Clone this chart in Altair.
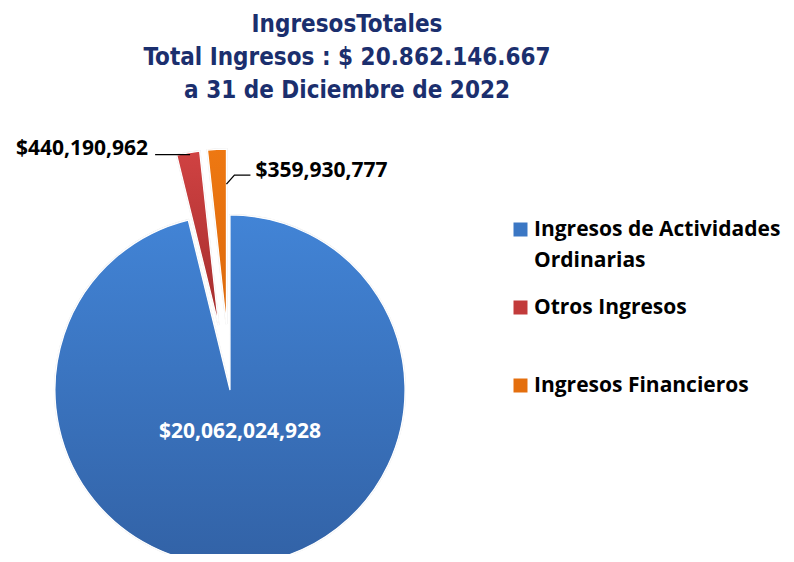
import math
import altair as alt
import pandas as pd

# ---------------- data ----------------
categories = ["Ingresos de Actividades Ordinarias", "Otros Ingresos", "Ingresos Financieros"]
values = [20062024928, 440190962, 359930777]
value_labels = ["$20,062,024,928", "$440,190,962", "$359,930,777"]
exploded = [False, True, True]
title_lines = ["IngresosTotales", "Total Ingresos : $ 20.862.146.667", "a 31 de Diciembre de 2022"]

# ---------------- style ----------------
colors = ["#3b77c4", "#c23b3b", "#e46f0e"]
grad_top = ["#4284d6", "#d04242", "#ee7812"]
grad_bottom = ["#3262a6", "#a32d2d", "#dc680a"]
CX, CY = 222, 275          # pie centre (plot coords)
R = 175                    # radius
EXPLODE = 66               # explode distance for detached slices
W, H = 778, 439
TOP = 107
TITLE_FONT = "'Liberation Sans Narrow', 'DejaVu Sans Condensed', 'Roboto Condensed', Roboto, sans-serif"

# ---------------- geometry derived from values ----------------
total = sum(values)
rows, cum = [], 0
for i, (c, v, lab, e) in enumerate(zip(categories, values, value_labels, exploded)):
    t0 = cum / total * 2 * math.pi
    cum += v
    t1 = cum / total * 2 * math.pi
    mid = (t0 + t1) / 2
    d = EXPLODE if e else 0
    cx = CX + d * math.sin(mid)
    cy = CY - d * math.cos(mid)
    rows.append(dict(cat=categories[i], value=v, label=lab, order=i, t0=t0, t1=t1,
                     mid=mid, cx=cx, cy=cy,
                     ox=cx + R * math.sin(mid), oy=cy - R * math.cos(mid),
                     ex=cx + 0.80 * R * math.sin(t1), ey=cy - 0.80 * R * math.cos(t1)))
df = pd.DataFrame(rows)

# leader lines and outside label anchors (offsets are style)
red, orange = df.iloc[1], df.iloc[2]
leaders = pd.DataFrame([
    dict(seg="r", k=0, x=red.ox + 2, y=red.oy + 2),
    dict(seg="r", k=1, x=red.ox - 33, y=red.oy + 2),
    dict(seg="o", k=0, x=orange.ex, y=orange.ey),
    dict(seg="o", k=1, x=orange.ex + 8, y=orange.ey - 9),
    dict(seg="o", k=2, x=orange.ex + 24, y=orange.ey - 9),
])
outer = pd.DataFrame([
    dict(label=red.label, x=red.ox - 40, y=red.oy - 4, side="r"),
    dict(label=orange.label, x=orange.ex + 29, y=orange.ey - 13, side="o"),
])

base = alt.Chart(df)
pos = dict(
    theta=alt.Theta("t0:Q", scale=None),
    theta2="t1:Q",
    x=alt.X("cx:Q", scale=None, axis=None),
    y=alt.Y("cy:Q", scale=None, axis=None),
)

shadow = base.mark_arc(radius=R, stroke="#c8c8c8", strokeWidth=2, strokeOpacity=0.4, fill="#d0d0d0").encode(**pos)

arcs = base.mark_arc(radius=R, stroke="white", strokeWidth=1.2).encode(
    **pos,
    color=alt.Color(
        "cat:N",
        scale=alt.Scale(domain=categories, range=colors),
        legend=alt.Legend(
            title=None, orient="none", legendX=502, legendY=104, padding=0,
            symbolType="square", symbolSize=196, symbolStrokeWidth=0,
            labelFont="Open Sans", labelFontSize=21, labelFontWeight="bold",
            labelColor="black", labelLimit=400, labelOffset=3,
            labelExpr="datum.label == 'Ingresos de Actividades Ordinarias' ? ['Ingresos de Actividades', 'Ordinarias'] : datum.label",
            rowPadding=25, gridAlign="all",
        ),
    ),
)

grad_layers = []
for i in range(len(categories)):
    grad_layers.append(
        base.transform_filter(alt.datum.order == i).mark_arc(
            radius=R, stroke="white", strokeWidth=1.2,
            fill=alt.Gradient(gradient="linear", x1=0, y1=0, x2=0, y2=1,
                              stops=[alt.GradientStop(color=grad_top[i], offset=0),
                                     alt.GradientStop(color=grad_bottom[i], offset=1)]),
        ).encode(**pos)
    )

inner_label = base.transform_filter(alt.datum.order == 0).mark_text(
    radius=42, dx=5, color="white", font="Open Sans", fontSize=21, fontWeight="bold",
    baseline="middle", align="center",
).encode(
    theta=alt.Theta("mid:Q", scale=None),
    x=alt.X("cx:Q", scale=None),
    y=alt.Y("cy:Q", scale=None),
    text="label:N",
)

lines = alt.Chart(leaders).mark_line(color="black", strokeWidth=1.3).encode(
    x=alt.X("x:Q", scale=None),
    y=alt.Y("y:Q", scale=None),
    detail="seg:N",
    order="k:Q",
)

text_common = dict(font="Open Sans", fontSize=21, fontWeight="bold", color="black", baseline="middle")
red_text = alt.Chart(outer).transform_filter(alt.datum.side == "r").mark_text(align="right", **text_common).encode(
    x=alt.X("x:Q", scale=None), y=alt.Y("y:Q", scale=None), text="label:N")
orange_text = alt.Chart(outer).transform_filter(alt.datum.side == "o").mark_text(align="left", **text_common).encode(
    x=alt.X("x:Q", scale=None), y=alt.Y("y:Q", scale=None), text="label:N")

chart = alt.layer(shadow, arcs, *grad_layers, inner_label, lines, red_text, orange_text).properties(
    width=W, height=H,
    autosize=alt.AutoSizeParams(type="none"),
    padding={"left": 0, "top": TOP, "right": 0, "bottom": 0},
    title=alt.Title(
        title_lines, font=TITLE_FONT, fontSize=24, fontWeight="bold",
        color="#1b2f6e", lineHeight=33, anchor="middle", frame="group", dx=-50, offset=12,
    ),
).configure(style={"guide-label": {"lineHeight": 31}}).configure_view(stroke=None)

chart.save("out.html", embed_options={"renderer": "svg", "actions": False})
